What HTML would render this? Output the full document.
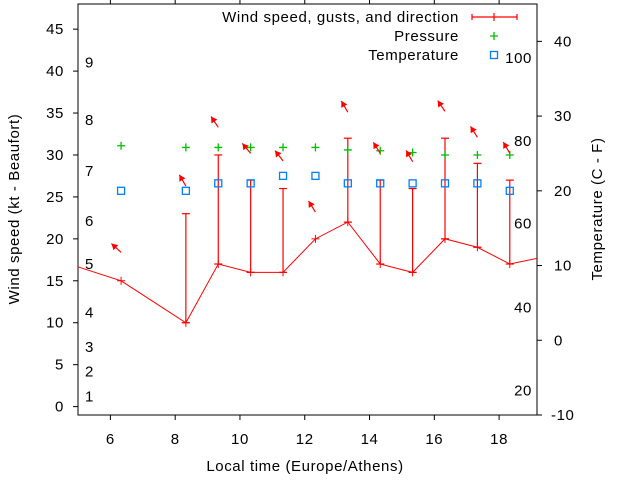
<!DOCTYPE html>
<html><head><meta charset="utf-8"><style>
html,body{margin:0;padding:0;background:#fff;}
svg{display:block;font-family:"Liberation Sans",sans-serif;}
svg text{letter-spacing:0.6px;}
</style></head><body>
<svg id="chart" width="640" height="480" viewBox="0 0 640 480" xmlns="http://www.w3.org/2000/svg"></svg>
<script>
// ---- data ----
const times = [4.33, 6.33, 8.33, 9.33, 10.33, 11.33, 12.33, 13.33, 14.33, 15.33, 16.33, 17.33, 18.33, 19.33];
const windSpeed = [17.5, 15, 10, 17, 16, 16, 20, 22, 17, 16, 20, 19, 17, 17.8];
const obsTimes = [6.33, 8.33, 9.33, 10.33, 11.33, 12.33, 13.33, 14.33, 15.33, 16.33, 17.33, 18.33];
const obsSpeed = [15, 10, 17, 16, 16, 20, 22, 17, 16, 20, 19, 17];
const gusts = [null, 23, 30, 27, 26, null, 32, 27, 26, 32, 29, 27];
const pressure = [31.1, 30.9, 30.9, 30.9, 30.9, 30.9, 30.6, 30.5, 30.3, 30.0, 30.0, 30.0];
const temperature = [20, 20, 21, 21, 22, 22, 21, 21, 21, 21, 21, 20];
const arrowLevel = [18.4, 26.3, 33.3, 30.2, 29.3, 23.2, 35.1, 30.2, 29.2, 35.2, 32.1, 30.2];
const arrowDir = [312, 330, 326, 320, 322, 328, 330, 328, 330, 326, 328, 330];
const xTicks = [6, 8, 10, 12, 14, 16, 18];
const yTicks = [0, 5, 10, 15, 20, 25, 30, 35, 40, 45];
const y2Ticks = [-10, 0, 10, 20, 30, 40];
const beaufortLabels = ["1","2","3","4","5","6","7","8","9"];
const beaufortAt = [1.2, 4.2, 7.1, 11.2, 17, 22.1, 28.1, 34.2, 41];
const fahrLabels = ["20","40","60","80","100"];
const fahrAt = [-6.7, 4.4, 15.6, 26.7, 37.8];

// ---- layout ----
const L=78,R=537,T=4,B=415;
const xMin=5,xMax=19.17,yMin=-1,yMax=48,y2Min=-10,y2Max=45;
const sx=v=>L+(v-xMin)/(xMax-xMin)*(R-L);
const sy=v=>B-(v-yMin)/(yMax-yMin)*(B-T);
const sy2=v=>B-(v-y2Min)/(y2Max-y2Min)*(B-T);
const svg=document.getElementById('chart');
const NS='http://www.w3.org/2000/svg';
function mk(tag,attrs,parent){const e=document.createElementNS(NS,tag);for(const k in attrs)e.setAttribute(k,attrs[k]);(parent||svg).appendChild(e);return e;}
function txt(s,x,y,anchor,parent){const t=mk('text',{x:x,y:y,'font-size':15,'text-anchor':anchor,fill:'#000'},parent);t.textContent=s;return t;}

const defs=mk('defs',{});
const cp=mk('clipPath',{id:'pc'},defs);
mk('rect',{x:L,y:T,width:R-L,height:B-T},cp);

const axes=mk('g',{});


xTicks.forEach(v=>{
  const x=sx(v);
  mk('line',{x1:x,y1:B,x2:x,y2:B+5,stroke:'#000'},axes);
  mk('line',{x1:x,y1:T,x2:x,y2:T-5,stroke:'#000'},axes);
  const t=txt(String(v),x,444,'middle',axes);
  
  
});
yTicks.forEach(v=>{
  const y=sy(v);
  mk('line',{x1:L-5,y1:y,x2:L,y2:y,stroke:'#000'},axes);
  const t=txt(String(v),64,y+5,'end',axes);
  
  
});
y2Ticks.forEach(v=>{
  const y=sy2(v);
  mk('line',{x1:R,y1:y,x2:R+5,y2:y,stroke:'#000'},axes);
  const t=txt(String(v),v<0?551:554,y+5,'start',axes);
  
  
});
beaufortLabels.forEach((s,i)=>{
  const t=txt(s,85,sy(beaufortAt[i])+5,'start',axes);
  
  
});
fahrLabels.forEach((s,i)=>{
  const t=txt(s,532,sy2(fahrAt[i])+5,'end',axes);
  
  
});
mk('rect',{x:L,y:T,width:R-L,height:B-T,fill:'none',stroke:'#000'},axes);

const xt=txt('Local time (Europe/Athens)',305,471,'middle');


const yt=txt('Wind speed (kt - Beaufort)',0,0,'middle');
yt.setAttribute('transform','translate(19,209) rotate(-90)');


const y2t=txt('Temperature (C - F)',0,0,'middle');
y2t.setAttribute('transform','translate(602,209) rotate(-90)');



const plot=mk('g',{'clip-path':'url(#pc)'});



obsTimes.forEach((t,i)=>{
  if(gusts[i]==null)return;
  const x=sx(t),y1=sy(obsSpeed[i]),y2=sy(gusts[i]);
  const g=mk('g',{stroke:'#f00','stroke-width':1.2},plot);
  
  
  mk('line',{x1:x,y1:y1,x2:x,y2:y2},g);
  mk('line',{x1:x-4,y1:y2,x2:x+4,y2:y2},g);
  mk('line',{x1:x-4,y1:y1,x2:x+4,y2:y1},g);
});
const pts=times.map((t,i)=>sx(t)+','+sy(windSpeed[i])).join(' ');
const wl=mk('polyline',{points:pts,fill:'none',stroke:'#f00','stroke-width':1},plot);


times.forEach((t,i)=>{
  const x=sx(t),y=sy(windSpeed[i]);
  const p=mk('path',{d:`M${x-4},${y}H${x+4}M${x},${y-4}V${y+4}`,stroke:'#f00','stroke-width':1},plot);
  
  
});
obsTimes.forEach((t,i)=>{
  const x=sx(t),y=sy(pressure[i]);
  const p=mk('path',{d:`M${x-4},${y}H${x+4}M${x},${y-4}V${y+4}`,stroke:'#00c000','stroke-width':1.3},plot);
  
  
});
obsTimes.forEach((t,i)=>{
  const x=sx(t),y=sy2(temperature[i]);
  const r=mk('rect',{x:x-3.5,y:y-3.5,width:7,height:7,fill:'none',stroke:'#0080ff','stroke-width':1.3},plot);
  
  
});
obsTimes.forEach((t,i)=>{
  const x=sx(t),y=sy(arrowLevel[i]);
  const a=arrowDir[i]*Math.PI/180;
  const dx=Math.sin(a),dy=-Math.cos(a);
  const len=13;
  const hx=x+dx*len,hy=y+dy*len;
  const g=mk('g',{},plot);
  
  
  mk('line',{x1:x,y1:y,x2:hx,y2:hy,stroke:'#f00','stroke-width':1.2},g);
  const bx=hx-dx*6,by=hy-dy*6,px=-dy*3.5,py=dx*3.5;
  mk('polygon',{points:`${hx},${hy} ${bx+px},${by+py} ${bx-px},${by-py}`,fill:'#f00'},g);
});

const lg=mk('g',{});


const e1=txt('Wind speed, gusts, and direction',459,22,'end',lg);


mk('path',{d:'M472,17H517M472,14V20M517,14V20M494,13V21',stroke:'#f00','stroke-width':1.2,fill:'none'},lg);
const e2=txt('Pressure',459,41,'end',lg);


mk('path',{d:'M490,36H498M494,32V40',stroke:'#00c000','stroke-width':1.3},lg);
const e3=txt('Temperature',459,60,'end',lg);


mk('rect',{x:490.5,y:51.5,width:7,height:7,fill:'none',stroke:'#0080ff','stroke-width':1.3},lg);
</script>
</body></html>
